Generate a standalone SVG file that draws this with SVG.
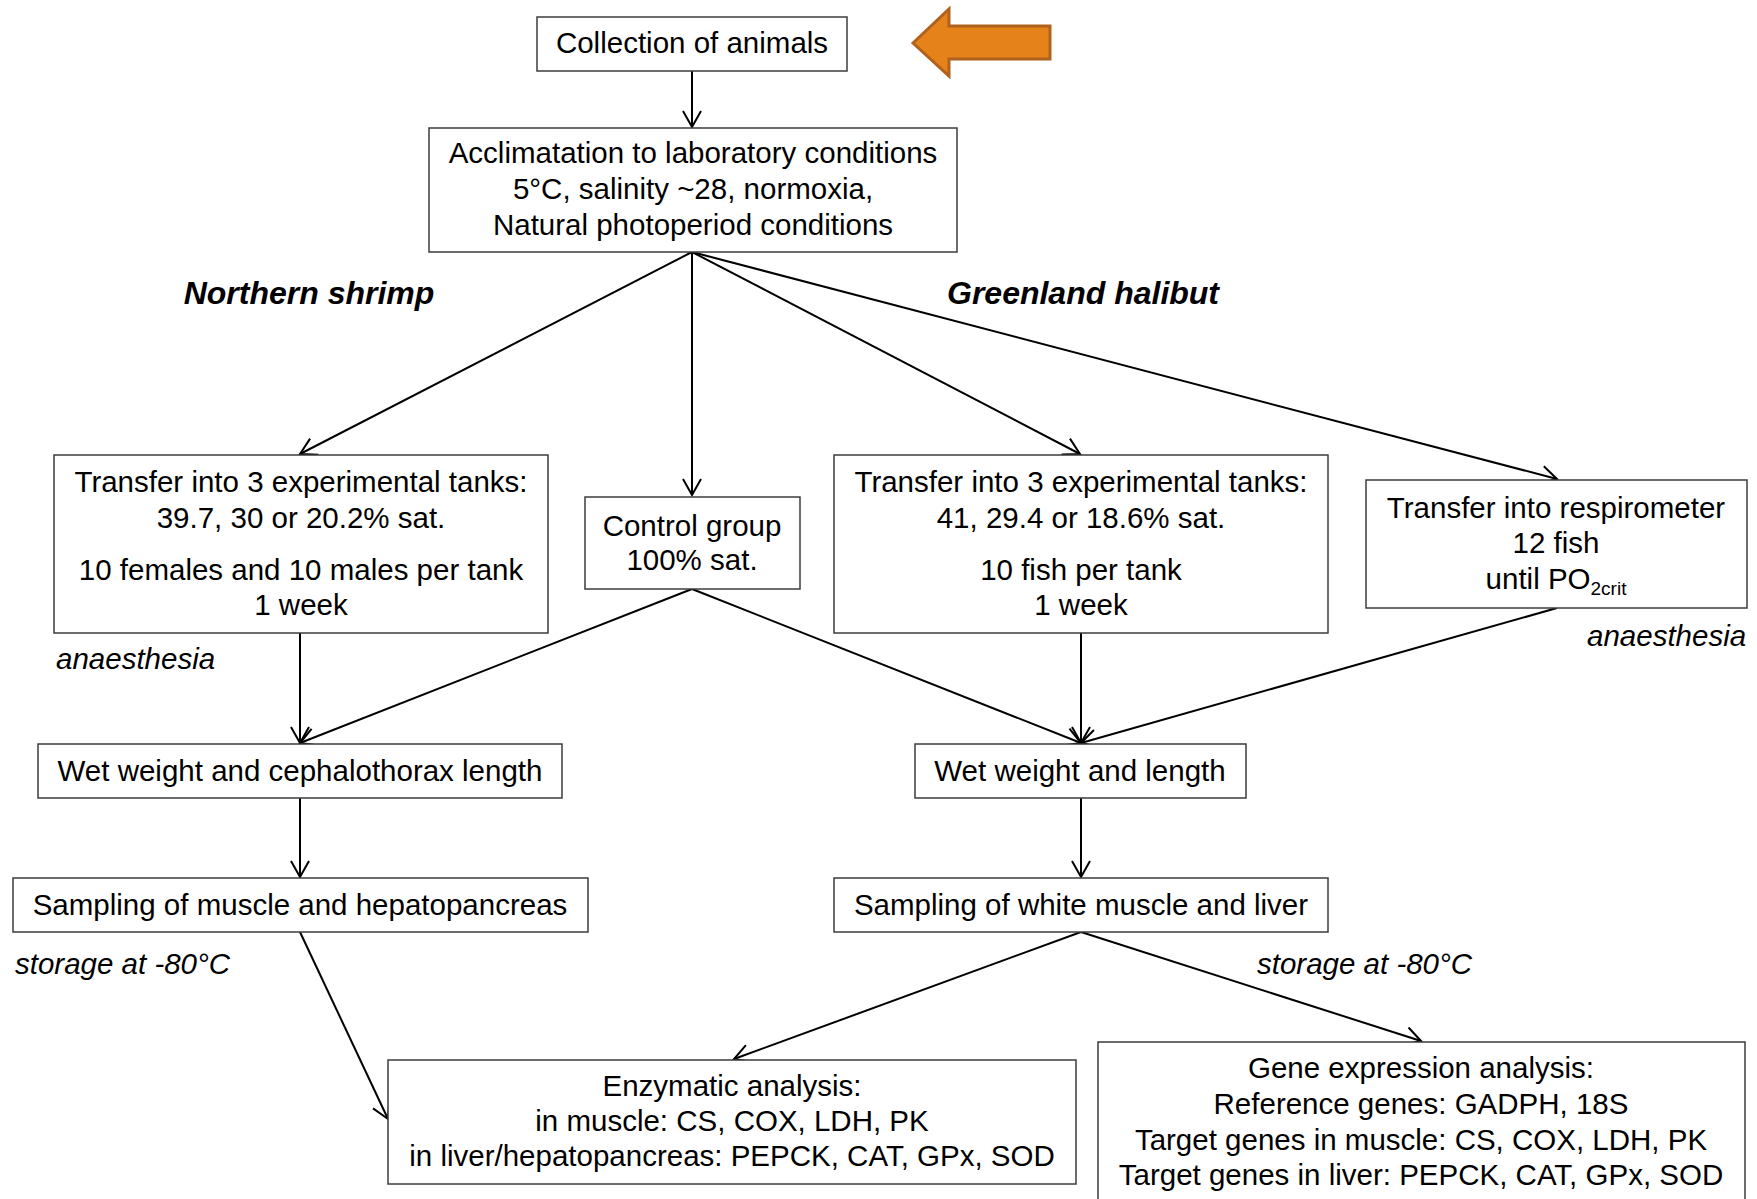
<svg xmlns="http://www.w3.org/2000/svg" width="1757" height="1199" viewBox="0 0 1757 1199">
<style>
.box{fill:#fff;stroke:#3c3c3c;stroke-width:1.5}
.t{font-family:"Liberation Sans",Arial,sans-serif;font-size:29.5px;fill:#000;text-anchor:middle}
.i{font-family:"Liberation Sans",Arial,sans-serif;font-size:29.5px;fill:#000;font-style:italic}
.h{font-family:"Liberation Sans",Arial,sans-serif;font-size:32px;fill:#000;font-style:italic;font-weight:bold;text-anchor:middle}
.c{stroke:#000;stroke-width:2;fill:none;marker-end:url(#ah)}
</style>
<defs>
<marker id="ah" markerUnits="userSpaceOnUse" markerWidth="24" markerHeight="24" refX="17" refY="10" orient="auto">
<path d="M1,1 L17,10 L1,19" fill="none" stroke="#000" stroke-width="2"/>
</marker>
</defs>
<rect width="1757" height="1199" fill="#fff"/>
<g id="connectors">
<line class="c" x1="692" y1="71" x2="692" y2="127"/>
<line class="c" x1="692" y1="252" x2="300" y2="454"/>
<line class="c" x1="692" y1="252" x2="692" y2="495"/>
<line class="c" x1="692" y1="252" x2="1080" y2="454"/>
<line class="c" x1="692" y1="252" x2="1557" y2="479"/>
<line class="c" x1="300" y1="633" x2="300" y2="743"/>
<line class="c" x1="692" y1="589" x2="300" y2="743"/>
<line class="c" x1="1081" y1="633" x2="1081" y2="743"/>
<line class="c" x1="692" y1="589" x2="1081" y2="743"/>
<line class="c" x1="1557" y1="608" x2="1081" y2="743"/>
<line class="c" x1="300" y1="798" x2="300" y2="877"/>
<line class="c" x1="1081" y1="798" x2="1081" y2="877"/>
<line class="c" x1="300" y1="932" x2="388" y2="1119"/>
<line class="c" x1="1081" y1="932" x2="734" y2="1059"/>
<line class="c" x1="1081" y1="932" x2="1421" y2="1041"/>
</g>
<g id="orange-arrow">
<polygon points="913,43 949,9 949,26 1050,26 1050,59 949,59 949,76" fill="#E5821A" stroke="#B0621C" stroke-width="3" stroke-linejoin="miter"/>
</g>
<g id="collection">
<rect class="box" x="537" y="17" width="310" height="54"/>
<text class="t" x="692" y="53">Collection of animals</text>
</g>
<g id="acclimatation">
<rect class="box" x="429" y="128" width="528" height="124"/>
<text class="t" x="693" y="163">Acclimatation to laboratory conditions</text>
<text class="t" x="693" y="199">5°C, salinity ~28, normoxia,</text>
<text class="t" x="693" y="235">Natural photoperiod conditions</text>
</g>
<g id="label-shrimp"><text class="h" x="309" y="304">Northern shrimp</text></g>
<g id="label-halibut"><text class="h" x="1083" y="304">Greenland halibut</text></g>
<g id="transfer-shrimp">
<rect class="box" x="54" y="455" width="494" height="178"/>
<text class="t" x="301" y="492">Transfer into 3 experimental tanks:</text>
<text class="t" x="301" y="528">39.7, 30 or 20.2% sat.</text>
<text class="t" x="301" y="580">10 females and 10 males per tank</text>
<text class="t" x="301" y="615">1 week</text>
</g>
<g id="control">
<rect class="box" x="585" y="497" width="215" height="92"/>
<text class="t" x="692" y="536">Control group</text>
<text class="t" x="692" y="570">100% sat.</text>
</g>
<g id="transfer-halibut">
<rect class="box" x="834" y="455" width="494" height="178"/>
<text class="t" x="1081" y="492">Transfer into 3 experimental tanks:</text>
<text class="t" x="1081" y="528">41, 29.4 or 18.6% sat.</text>
<text class="t" x="1081" y="580">10 fish per tank</text>
<text class="t" x="1081" y="615">1 week</text>
</g>
<g id="respirometer">
<rect class="box" x="1366" y="480" width="381" height="128"/>
<text class="t" x="1556" y="518">Transfer into respirometer</text>
<text class="t" x="1556" y="553">12 fish</text>
<text class="t" x="1556" y="589">until PO<tspan font-size="19" dy="6">2crit</tspan></text>
</g>
<g id="anaesthesia-left"><text class="i" x="56" y="669">anaesthesia</text></g>
<g id="anaesthesia-right"><text class="i" x="1587" y="646">anaesthesia</text></g>
<g id="wet-shrimp">
<rect class="box" x="38" y="744" width="524" height="54"/>
<text class="t" x="300" y="781">Wet weight and cephalothorax length</text>
</g>
<g id="wet-halibut">
<rect class="box" x="915" y="744" width="331" height="54"/>
<text class="t" x="1080" y="781">Wet weight and length</text>
</g>
<g id="sampling-shrimp">
<rect class="box" x="13" y="878" width="575" height="54"/>
<text class="t" x="300" y="915">Sampling of muscle and hepatopancreas</text>
</g>
<g id="sampling-halibut">
<rect class="box" x="834" y="878" width="494" height="54"/>
<text class="t" x="1081" y="915">Sampling of white muscle and liver</text>
</g>
<g id="storage-left"><text class="i" x="15" y="974">storage at -80°C</text></g>
<g id="storage-right"><text class="i" x="1257" y="974">storage at -80°C</text></g>
<g id="enzymatic">
<rect class="box" x="388" y="1060" width="688" height="124"/>
<text class="t" x="732" y="1096">Enzymatic analysis:</text>
<text class="t" x="732" y="1131">in muscle: CS, COX, LDH, PK</text>
<text class="t" x="732" y="1166">in liver/hepatopancreas: PEPCK, CAT, GPx, SOD</text>
</g>
<g id="gene">
<rect class="box" x="1098" y="1042" width="647" height="170"/>
<text class="t" x="1421" y="1078">Gene expression analysis:</text>
<text class="t" x="1421" y="1114">Reference genes: GADPH, 18S</text>
<text class="t" x="1421" y="1150">Target genes in muscle: CS, COX, LDH, PK</text>
<text class="t" x="1421" y="1185">Target genes in liver: PEPCK, CAT, GPx, SOD</text>
</g>
</svg>
